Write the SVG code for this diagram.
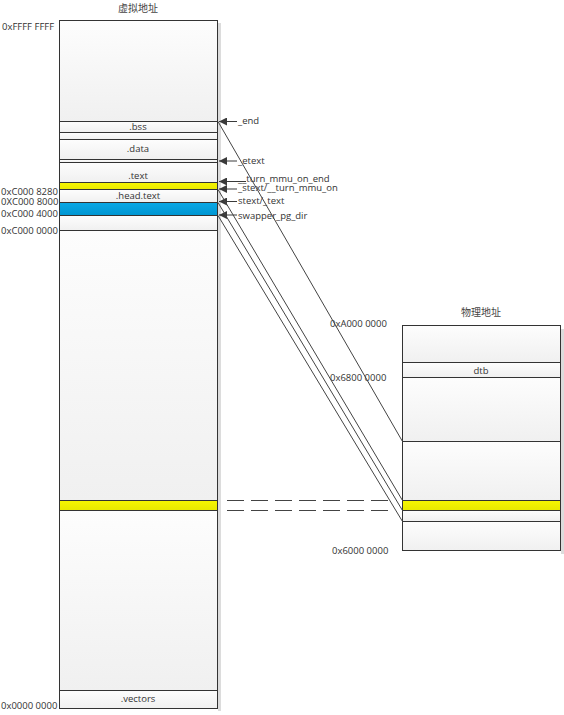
<svg xmlns="http://www.w3.org/2000/svg" width="564" height="715" viewBox="0 0 564 715">
<defs>
<linearGradient id="g" x1="0" y1="0" x2="0" y2="1"><stop offset="0" stop-color="#fdfdfd"/><stop offset="1" stop-color="#f0f0f0"/></linearGradient>
<linearGradient id="gy" x1="0" y1="0" x2="0" y2="1"><stop offset="0" stop-color="#f6f600"/><stop offset="1" stop-color="#e8e800"/></linearGradient>
<linearGradient id="gb" x1="0" y1="0" x2="0" y2="1"><stop offset="0" stop-color="#0aa8e6"/><stop offset="1" stop-color="#0096d2"/></linearGradient>
<marker id="ah" viewBox="0 0 10 10" refX="10" refY="5" markerWidth="9" markerHeight="8" markerUnits="userSpaceOnUse" orient="auto"><path d="M0,0 L10,5 L0,10 Z" fill="#3a3a3a"/></marker>
</defs>
<style>
.t{font-family:"Open Sans","Noto Sans","Liberation Sans",sans-serif;font-size:9.5px;fill:#333}
.c{text-anchor:middle}
.cjk{font-family:"Noto Sans CJK SC","Noto Sans",sans-serif;font-size:10px;fill:#444;text-anchor:middle}
.r{fill:url(#g);stroke:#333;stroke-width:1}
.y{fill:url(#gy);stroke:#333;stroke-width:1}
.b{fill:url(#gb);stroke:#333;stroke-width:1}
.sh{fill:#dcdcdc}
.ln{stroke:#444;stroke-width:1;fill:none}
.ar{stroke:#3a3a3a;stroke-width:1;fill:none;marker-end:url(#ah)}
.da{stroke:#444;stroke-width:1;stroke-dasharray:17 7;fill:none}
</style>

<g id="virtual">
<rect class="sh" x="218" y="23" width="3" height="688"/>
<rect class="r" x="59.5" y="20.5" width="158" height="688"/>
<text class="cjk" x="138" y="12">虚拟地址</text>
</g>
<g id="top-region"><rect class="r" x="59.5" y="20.5" width="158" height="101"/></g>
<g id="bss"><rect class="r" x="59.5" y="121.5" width="158" height="11"/><text class="t c" x="138" y="130">.bss</text></g>
<g id="gap1"><rect class="r" x="59.5" y="132.5" width="158" height="7"/></g>
<g id="data"><rect class="r" x="59.5" y="139.5" width="158" height="20"/><text class="t c" x="138" y="152">.data</text></g>
<g id="gap2"><rect class="r" x="59.5" y="159.5" width="158" height="3"/></g>
<g id="text"><rect class="r" x="59.5" y="162.5" width="158" height="20"/><text class="t c" x="138" y="179">.text</text></g>
<g id="turn-mmu"><rect class="y" x="59.5" y="182.5" width="158" height="7"/></g>
<g id="head-text"><rect class="r" x="59.5" y="189.5" width="158" height="13"/><text class="t c" x="138" y="198.5">.head.text</text></g>
<g id="pgdir"><rect class="b" x="59.5" y="202.5" width="158" height="13"/></g>
<g id="gap3"><rect class="r" x="59.5" y="215.5" width="158" height="15"/></g>
<g id="mid-region"><rect class="r" x="59.5" y="230.5" width="158" height="270"/></g>
<g id="v-yellow"><rect class="y" x="59.5" y="500.5" width="158" height="10"/></g>
<g id="low-region"><rect class="r" x="59.5" y="510.5" width="158" height="180"/></g>
<g id="vectors"><rect class="r" x="59.5" y="690.5" width="158" height="18"/><text class="t c" x="138" y="702">.vectors</text></g>

<g id="v-labels">
<text class="t" x="2" y="30">0xFFFF FFFF</text>
<text class="t" x="1" y="194.5">0xC000 8280</text>
<text class="t" x="1" y="205">0XC000 8000</text>
<text class="t" x="1" y="217">0xC000 4000</text>
<text class="t" x="1" y="233.5">0xC000 0000</text>
<text class="t" x="1" y="709">0x0000 0000</text>
</g>

<g id="sym-labels">
<text class="t" x="238" y="124">_end</text>
<text class="t" x="238" y="164">_etext</text>
<text class="t" x="238" y="182">__turn_mmu_on_end</text>
<text class="t" x="238" y="190.5">_stext/__turn_mmu_on</text>
<text class="t" x="238" y="204">stext/_text</text>
<text class="t" x="238" y="218.5">swapper_pg_dir</text>
</g>

<g id="physical">
<rect class="sh" x="561" y="329" width="3" height="225"/>
<text class="cjk" x="481" y="316">物理地址</text>
<rect class="r" x="402.5" y="325.5" width="158" height="37"/>
<rect class="r" x="402.5" y="362.5" width="158" height="15"/>
<text class="t c" x="481" y="373.5">dtb</text>
<rect class="r" x="402.5" y="377.5" width="158" height="64"/>
<rect class="r" x="402.5" y="441.5" width="158" height="59"/>
<rect class="y" x="402.5" y="500.5" width="158" height="10"/>
<rect class="r" x="402.5" y="510.5" width="158" height="11"/>
<rect class="r" x="402.5" y="521.5" width="158" height="29"/>
</g>
<g id="p-labels">
<text class="t" x="330" y="327">0xA000 0000</text>
<text class="t" x="330" y="380.5">0x6800 0000</text>
<text class="t" x="332" y="554">0x6000 0000</text>
</g>

<g id="connectors">
<line class="ar" x1="237" y1="121.5" x2="219" y2="121.5"/>
<line class="ar" x1="237" y1="161" x2="219" y2="161"/>
<line class="ar" x1="246" y1="181.5" x2="219" y2="181.5"/>
<line class="ar" x1="237" y1="189" x2="219" y2="189"/>
<line class="ar" x1="237" y1="201.5" x2="219" y2="201.5"/>
<line class="ar" x1="237" y1="215" x2="219" y2="215"/>
<line class="ln" x1="218" y1="121.5" x2="402.5" y2="441.5"/>
<line class="ln" x1="218" y1="189.5" x2="402.5" y2="500.5"/>
<line class="ln" x1="218" y1="202.5" x2="402.5" y2="510.5"/>
<line class="ln" x1="218" y1="215.5" x2="402.5" y2="521.5"/>
<line class="da" x1="227" y1="500.5" x2="389" y2="500.5"/>
<line class="da" x1="227" y1="510.5" x2="389" y2="510.5"/>
</g>
</svg>
